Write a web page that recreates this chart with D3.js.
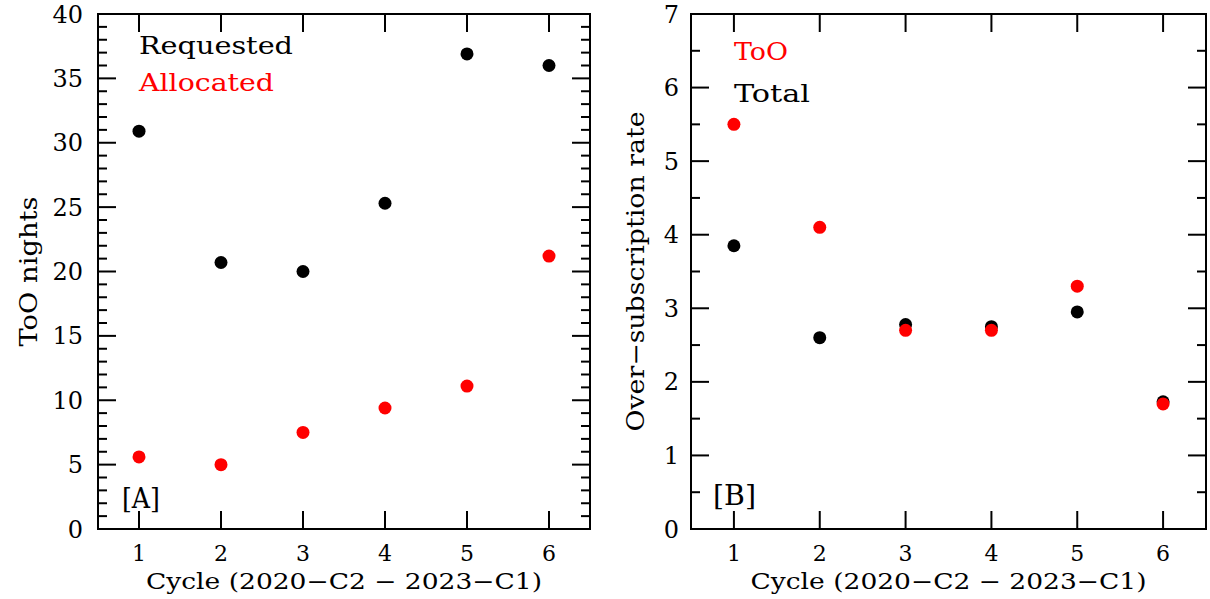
<!DOCTYPE html>
<html>
<head>
<meta charset="utf-8">
<script src="https://d3js.org/d3.v7.min.js"></script>
<style>
  body { margin: 0; background: white; }
  svg text { font-family: "DejaVu Serif", serif; }
</style>
</head>
<body>
<svg id="chart" width="1210" height="599"></svg>
<script>
// data
let cycles = [1, 2, 3, 4, 5, 6];
let requested = [30.9, 20.7, 20.0, 25.3, 36.9, 36.0];
let allocated = [5.6, 5.0, 7.5, 9.4, 11.1, 21.2];
let rateToO = [5.5, 4.1, 2.7, 2.7, 3.3, 1.7];
let rateTotal = [3.85, 2.6, 2.78, 2.75, 2.95, 1.73];
let xTitle = "Cycle (2020\u2212C2 \u2212 2023\u2212C1)";

let svg = d3.select("#chart");
let plotTop = 14, plotBottom = 529;

function panel(o) {
    let x = d3.scaleLinear().domain([0.5, 6.5]).range([o.left, o.right]);
    let y = d3.scaleLinear().domain([0, o.ymax]).range([plotBottom, plotTop]);
    let g = svg.append("g");

    // frame
    g.append("rect")
        .attr("x", o.left).attr("y", plotTop)
        .attr("width", o.right - o.left).attr("height", plotBottom - plotTop)
        .attr("fill", "none").attr("stroke", "black").attr("stroke-width", 2);

    // ticks on all four sides
    let minor = d3.range(0, o.ymax + 1e-9, o.minorStep);
    let major = d3.range(0, o.ymax + 1e-9, o.majorStep);
    minor.forEach(v => {
        let isMajor = major.some(m => Math.abs(m - v) < 1e-9);
        let len = isMajor ? 18 : 9;
        g.append("line").attr("x1", o.left).attr("x2", o.left + len)
            .attr("y1", y(v)).attr("y2", y(v)).attr("stroke", "black").attr("stroke-width", 2);
        g.append("line").attr("x1", o.right).attr("x2", o.right - len)
            .attr("y1", y(v)).attr("y2", y(v)).attr("stroke", "black").attr("stroke-width", 2);
    });
    cycles.forEach(c => {
        g.append("line").attr("x1", x(c)).attr("x2", x(c))
            .attr("y1", plotBottom).attr("y2", plotBottom - 18).attr("stroke", "black").attr("stroke-width", 2);
        g.append("line").attr("x1", x(c)).attr("x2", x(c))
            .attr("y1", plotTop).attr("y2", plotTop + 18).attr("stroke", "black").attr("stroke-width", 2);
    });

    // tick labels
    g.selectAll(".ylab").data(major).enter().append("text")
        .attr("x", o.left - o.labGap).attr("y", d => y(d) + 8.5)
        .attr("text-anchor", "end").attr("font-size", 24)
        .text(d => d3.format("d")(d));
    g.selectAll(".xlab").data(cycles).enter().append("text")
        .attr("x", d => x(d)).attr("y", 561)
        .attr("text-anchor", "middle").attr("font-size", 22)
        .text(d => d);

    // axis titles
    g.append("text")
        .attr("x", (o.left + o.right) / 2).attr("y", 589)
        .attr("text-anchor", "middle").attr("font-size", 22)
        .attr("textLength", 396).attr("lengthAdjust", "spacingAndGlyphs")
        .text(xTitle);
    g.append("text")
        .attr("transform", `translate(${o.ytitleX},${(plotTop + plotBottom) / 2}) rotate(-90)`)
        .attr("text-anchor", "middle").attr("font-size", 24)
        .attr("textLength", o.ytitleLen).attr("lengthAdjust", "spacingAndGlyphs")
        .text(o.ytitle);

    // points
    o.series.forEach(s => {
        g.selectAll(null).data(s.values).enter().append("circle")
            .attr("cx", (d, i) => x(cycles[i])).attr("cy", d => y(d))
            .attr("r", 6.5).attr("fill", s.color);
    });

    // legend and panel tag
    o.legend.forEach(l => {
        g.append("text").attr("x", x(1)).attr("y", l.y)
            .attr("font-size", 25).attr("fill", l.color)
            .attr("textLength", l.len).attr("lengthAdjust", "spacingAndGlyphs")
            .text(l.text);
    });
    g.append("text").attr("x", o.tagX).attr("y", o.tagY)
        .attr("font-size", 27).attr("textLength", o.tagLen).attr("lengthAdjust", "spacingAndGlyphs")
        .text(o.tag);
}

panel({
    left: 98, right: 590, ymax: 40, majorStep: 5, minorStep: 1, labGap: 15,
    ytitle: "ToO nights", ytitleX: 37, ytitleLen: 150,
    series: [{values: requested, color: "black"}, {values: allocated, color: "red"}],
    legend: [{text: "Requested", color: "black", y: 54, len: 154},
             {text: "Allocated", color: "red", y: 91, len: 135}],
    tag: "[A]", tagX: 122, tagY: 508, tagLen: 38
});

panel({
    left: 691, right: 1206, ymax: 7, majorStep: 1, minorStep: 0.5, labGap: 12,
    ytitle: "Over\u2212subscription rate", ytitleX: 644, ytitleLen: 320,
    series: [{values: rateTotal, color: "black"}, {values: rateToO, color: "red"}],
    legend: [{text: "ToO", color: "red", y: 60, len: 54},
             {text: "Total", color: "black", y: 102, len: 76}],
    tag: "[B]", tagX: 713, tagY: 505, tagLen: 43
});
</script>
</body>
</html>
